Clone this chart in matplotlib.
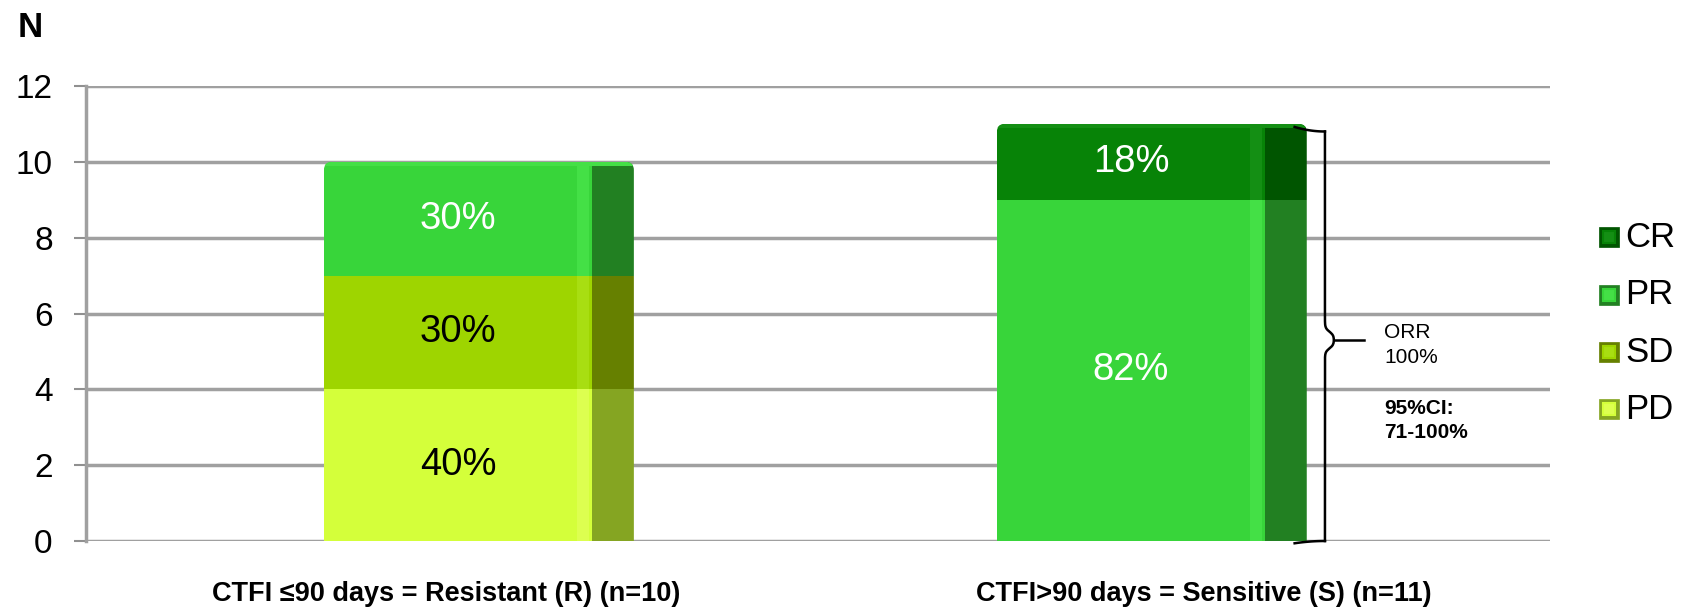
import numpy as np
import matplotlib.pyplot as plt
from matplotlib.patches import FancyBboxPatch
from matplotlib.lines import Line2D

plt.rcParams['font.family'] = ['Liberation Sans', 'DejaVu Sans']

groups = ['CTFI \u226490 days = Resistant (R) (n=10)', 'CTFI>90 days = Sensitive (S) (n=11)']
# stacked from the bottom: PD, SD, PR, CR
stages = ['PD', 'SD', 'PR', 'CR']
counts = {
    'PD': [4, 0],
    'SD': [3, 0],
    'PR': [3, 9],
    'CR': [0, 2],
}
pct_labels = {
    'PD': ['40%', ''],
    'SD': ['30%', ''],
    'PR': ['30%', '82%'],
    'CR': ['', '18%'],
}
face = {'PD': '#d4ff3a', 'SD': '#9ed500', 'PR': '#38d53a', 'CR': '#078307'}
side = {'PD': '#85a522', 'SD': '#668000', 'PR': '#228022', 'CR': '#005500'}
light = {'PD': '#ddff50', 'SD': '#a8de12', 'PR': '#44e046', 'CR': '#148f14'}
txt_col = {'PD': 'black', 'SD': 'black', 'PR': 'white', 'CR': 'white'}

fig = plt.figure(figsize=(16.94, 6.08), dpi=100)
ax = fig.add_axes([86 / 1694, 1 - 541 / 608, 1464 / 1694, 455 / 608])

ax.set_xlim(-0.475, 1.457)
ax.set_ylim(0, 12)
ax.set_yticks(np.arange(0, 13, 2))
ax.set_xticks([0, 1])
ax.set_xticklabels(groups, fontsize=19.5, fontweight='bold')
ax.tick_params(axis='x', length=0, pad=29)
ax.tick_params(axis='y', labelsize=24, length=9, width=1.5, color='#909090', pad=15)
for s in ['top', 'right', 'bottom']:
    ax.spines[s].set_visible(False)
ax.spines['left'].set_color('#a0a0a0')
ax.spines['left'].set_linewidth(2.5)
ax.yaxis.grid(True, color='#a0a0a0', linewidth=2.5)
ax.set_axisbelow(True)

# bar placement (left edge of front face relative to the category tick)
bar_left = np.arange(len(groups)) + np.array([-0.161, -0.273])
front_w = 0.354
side_w = 0.055
totals = sum(np.array(counts[s], dtype=float) for s in stages)

# rounded outline used to clip each stacked column
clips = []
for i, tot in enumerate(totals):
    p = FancyBboxPatch((bar_left[i], -1), front_w + side_w, tot + 1,
                       boxstyle='round,pad=0,rounding_size=0.011',
                       mutation_aspect=19.5, transform=ax.transData)
    clips.append(p)

bottoms = np.zeros(len(groups))
for st in stages:
    vals = np.array(counts[st], dtype=float)
    arts = []
    arts += list(ax.bar(bar_left, vals, width=front_w, bottom=bottoms, align='edge',
                        color=face[st], linewidth=0, zorder=3))
    arts += list(ax.bar(bar_left + front_w, vals, width=side_w, bottom=bottoms, align='edge',
                        color=side[st], linewidth=0, zorder=3))
    # light strip where the front meets the side
    arts += list(ax.bar(bar_left + front_w - 0.02, vals, width=0.016, bottom=bottoms,
                        align='edge', color=light[st], linewidth=0, zorder=3.5))
    for k, a in enumerate(arts):
        a.set_clip_path(clips[k % len(groups)])
    for i, v in enumerate(vals):
        if v > 0 and pct_labels[st][i]:
            ax.text(bar_left[i] + front_w / 2, bottoms[i] + v / 2, pct_labels[st][i],
                    ha='center', va='center', fontsize=27.5, color=txt_col[st], zorder=5)
    bottoms += vals

# thin highlight along the top of each column
for i, tot in enumerate(totals):
    top_stage = [st for st in stages if counts[st][i] > 0][-1]
    h = ax.bar(bar_left[i], 0.12, width=front_w + side_w, bottom=tot - 0.12, align='edge',
               color=light[top_stage], linewidth=0, zorder=3.6)
    h[0].set_clip_path(clips[i])

fig.text(18 / 1694, 1 - 37 / 608, 'N', fontsize=25, fontweight='bold',
         ha='left', va='baseline')

# brace next to the sensitive bar
bx = 1.160
btop = 10.8
mid = 5.3
ys = np.linspace(0, btop, 500)
w = 0.012
ty = 0.22
xs = bx + w * (1 / (1 + np.exp(-(ys - mid + ty) / 0.05)) - 1 / (1 + np.exp(-(ys - mid - ty) / 0.05)))
ax.plot(xs, ys, color='black', lw=1.8, zorder=6, clip_on=False)
ax.plot([bx + w, 1.211], [mid, mid], color='black', lw=1.8, zorder=6)
hk = np.linspace(0, 1, 30)
ax.plot(bx - 0.04 * (1 - hk), btop + 0.12 * (1 - hk) ** 2,
        color='black', lw=1.8, zorder=6)
ax.plot(bx - 0.04 * (1 - hk), -0.06 * (1 - hk) ** 2,
        color='black', lw=1.8, zorder=6, clip_on=False)

tx = 1.238
ax.text(tx, 5.51, 'ORR', fontsize=15, va='center', ha='left')
ax.text(tx, 4.85, '100%', fontsize=15, va='center', ha='left')
ax.text(tx, 3.5, '95%CI:', fontsize=15, fontweight='bold', va='center', ha='left')
ax.text(tx, 2.85, '71-100%', fontsize=15, fontweight='bold', va='center', ha='left')

# legend, top to bottom CR, PR, SD, PD; bevelled squares
leg_y = [0.610, 0.515, 0.421, 0.327]
for st, yy in zip(stages[::-1], leg_y):
    fig.add_artist(Line2D([0.9501], [yy], marker='s', linestyle='none', markersize=14,
                          markerfacecolor=side[st], markeredgecolor=side[st],
                          markeredgewidth=0.5, transform=fig.transFigure))
    fig.add_artist(Line2D([0.9501], [yy], marker='s', linestyle='none', markersize=8,
                          markerfacecolor=light[st], markeredgecolor=face[st],
                          markeredgewidth=1.5, transform=fig.transFigure))
    fig.text(0.9595, yy, st, fontsize=25, ha='left', va='center')

fig.savefig('out.png', dpi=100)
